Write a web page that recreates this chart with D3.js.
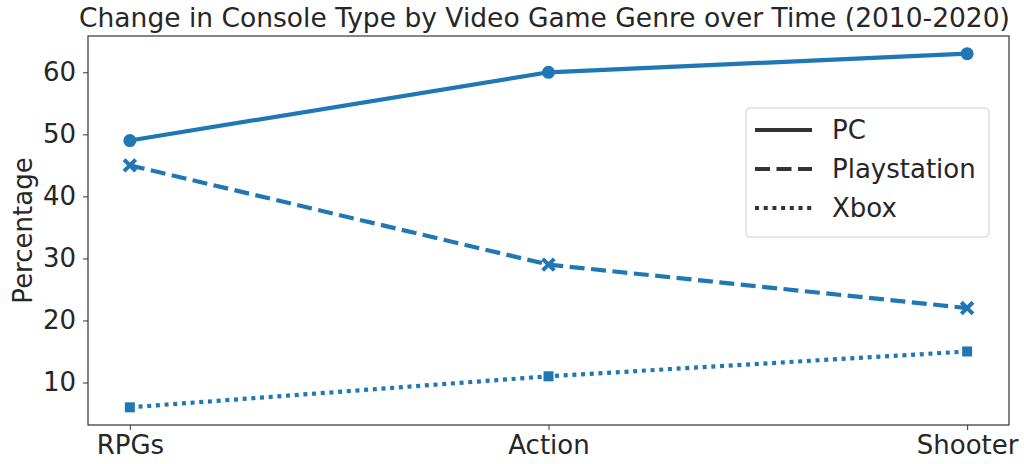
<!DOCTYPE html>
<html>
<head>
<meta charset="utf-8">
<script src="https://cdn.jsdelivr.net/npm/d3@7"></script>
<style>
  body { margin: 0; background: #fff; }
  text { font-family: "DejaVu Sans", sans-serif; fill: #262626; }
</style>
</head>
<body>
<svg id="chart" width="1024" height="464"></svg>
<script>
const genres = ["RPGs", "Action", "Shooter"];
const pcValues = [49, 60, 63];
const playstationValues = [45, 29, 22];
const xboxValues = [6, 11, 15];
const yTicks = [10, 20, 30, 40, 50, 60];

const series = [
  { name: "PC", values: pcValues, dash: null, marker: "circle" },
  { name: "Playstation", values: playstationValues, dash: "15,6.5", marker: "x" },
  { name: "Xbox", values: xboxValues, dash: "4,4.7", marker: "square" }
];

const color = "#1f77b4";
const fontSize = "26px";
const plotLeft = 88, plotRight = 1009, plotTop = 36, plotBottom = 425;

const svg = d3.select("#chart");

const x = d3.scaleLinear().domain([-0.1, 2.1]).range([plotLeft, plotRight]);
const y = d3.scaleLinear().domain([3.15, 65.85]).range([plotBottom, plotTop]);

// axes
const yAxis = svg.append("g")
  .attr("transform", `translate(${plotLeft},0)`)
  .call(d3.axisLeft(y).tickValues(yTicks).tickSize(5).tickPadding(7));
const xAxis = svg.append("g")
  .attr("transform", `translate(0,${plotBottom})`)
  .call(d3.axisBottom(x).tickValues([0, 1, 2]).tickFormat(i => genres[i]).tickSize(5).tickPadding(4));

[xAxis, yAxis].forEach(a => {
  a.select(".domain").remove();
  a.selectAll("line").attr("stroke", "#333").attr("stroke-width", 1);
  a.selectAll("text").style("font-size", fontSize).attr("fill", "#262626");
});
xAxis.selectAll("text").attr("dy", "0.75em");

// frame
svg.append("rect")
  .attr("x", plotLeft).attr("y", plotTop)
  .attr("width", plotRight - plotLeft).attr("height", plotBottom - plotTop)
  .attr("fill", "none").attr("stroke", "#333").attr("stroke-width", 1.2);

const line = d3.line().x((d, i) => x(i)).y(d => y(d));

const xShape = d3.symbol().type(d3.symbolX).size(90);

series.forEach(s => {
  svg.append("path")
    .datum(s.values)
    .attr("d", line)
    .attr("fill", "none")
    .attr("stroke", color)
    .attr("stroke-width", 4.2)
    .attr("stroke-dasharray", s.dash);

  const g = svg.append("g");
  s.values.forEach((v, i) => {
    if (s.marker == "circle") {
      g.append("circle").attr("cx", x(i)).attr("cy", y(v)).attr("r", 6.5).attr("fill", color);
    } else if (s.marker == "square") {
      g.append("rect").attr("x", x(i) - 5).attr("y", y(v) - 5)
        .attr("width", 10).attr("height", 10).attr("fill", color);
    } else {
      g.append("path").attr("d", xShape())
        .attr("transform", `translate(${x(i)},${y(v)})`)
        .attr("fill", "none").attr("stroke", color).attr("stroke-width", 4);
    }
  });
});

// title and label
svg.append("text")
  .attr("x", (plotLeft + plotRight) / 2 - 4).attr("y", 27)
  .attr("text-anchor", "middle")
  .style("font-size", "26.5px")
  .text("Change in Console Type by Video Game Genre over Time (2010-2020)");

svg.append("text")
  .attr("transform", `translate(32,${(plotTop + plotBottom) / 2}) rotate(-90)`)
  .attr("text-anchor", "middle")
  .style("font-size", fontSize)
  .text("Percentage");

// legend
const legend = svg.append("g");
legend.append("rect")
  .attr("x", 746).attr("y", 108).attr("width", 243).attr("height", 129)
  .attr("rx", 4).attr("fill", "#fff").attr("stroke", "#d0d0d0");

series.forEach((s, i) => {
  const ly = 130 + i * 39;
  legend.append("line")
    .attr("x1", 755).attr("x2", 812).attr("y1", ly).attr("y2", ly)
    .attr("stroke", "#333").attr("stroke-width", 4)
    .attr("stroke-dasharray", s.dash);
  legend.append("text")
    .attr("x", 832).attr("y", ly).attr("dy", "0.36em")
    .style("font-size", fontSize)
    .text(s.name);
});
</script>
</body>
</html>
